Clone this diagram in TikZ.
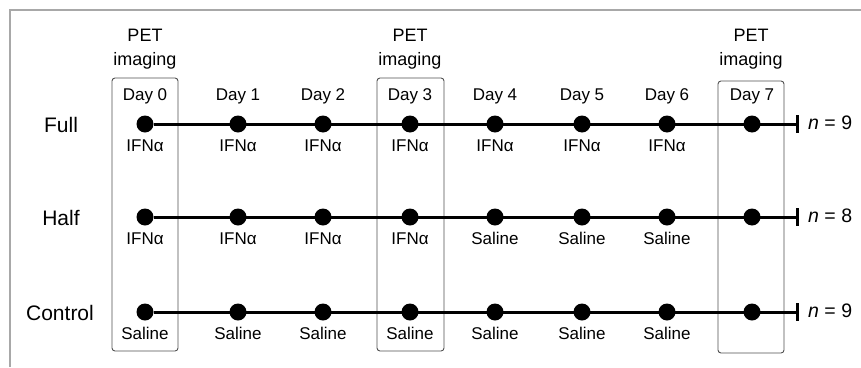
\documentclass[tikz,border=0pt]{standalone}
\usepackage{fontspec}
\setmainfont{Liberation Sans}
\definecolor{framegray}{HTML}{A8A8A8}
\definecolor{boxgray}{HTML}{505050}
\begin{document}
\begin{tikzpicture}[x=1pt,y=-1pt,
  dotnode/.style={circle,fill=black,inner sep=0pt,minimum size=17pt},
  daylbl/.style={font=\fontsize{17}{20}\selectfont,inner sep=0pt,anchor=base},
  petlbl/.style={font=\fontsize{18}{21}\selectfont,inner sep=0pt,anchor=base},
  rowlbl/.style={font=\fontsize{21}{24}\selectfont,inner sep=0pt,anchor=base},
  nlbl/.style={font=\fontsize{19.5}{23}\selectfont,inner sep=0pt,anchor=base west},
  timeline/.style={line width=3pt},
  endbar/.style={line width=3pt},
  petbox/.style={draw=boxgray,line width=0.9pt,rounded corners=3pt},
  outerframe/.style={draw=framegray,line width=1.6pt}]
\useasboundingbox (0,0) rectangle (861,367);
\draw[outerframe] (10,367) -- (10,10) -- (861,10);

% PET boxes
\draw[petbox] (112,78) rectangle (178,351);
\draw[petbox] (377,78) rectangle (444,351);
\draw[petbox] (718,81) rectangle (784,353);

% PET imaging labels
\foreach \nm/\x in {a/145,b/410,c/751}{
  \node[petlbl] (pet\nm) at (\x,41) {PET};
  \node[petlbl] (img\nm) at (\x,65) {imaging};
}

% Day labels
\foreach \i/\x in {0/145,1/238,2/323,3/410,4/495,5/582,6/667,7/752}{
  \node[daylbl] (day\i) at (\x,100) {Day \i};
}

% Row labels
\node[rowlbl] (full) at (61,132) {Full};
\node[rowlbl] (half) at (61,225) {Half};
\node[rowlbl] (ctrl) at (60,320) {Control};

% Rows
\foreach \r/\y/\n in {1/124/9,2/217/8,3/312/9}{
  \coordinate (e\r) at (797,\y);
  \foreach \i/\x in {0/145,1/238,2/323,3/410,4/495,5/582,6/667,7/752}{
    \node[dotnode] (d\r\i) at (\x,\y) {};
  }
  \draw[timeline] (d\r0) -- (e\r);
  \draw[endbar] ([yshift=9pt]e\r) -- ([yshift=-9pt]e\r);
  \node[nlbl] (n\r) at (808,\y+5) {\textit{n} = \n};
}

% Treatment labels
\foreach \i/\x in {0/145,1/238,2/323,3/410,4/495,5/582,6/667}{
  \node[daylbl] (t1\i) at (\x,151) {IFNα};
}
\foreach \i/\x in {0/145,1/238,2/323,3/410}{
  \node[daylbl] (t2\i) at (\x,244) {IFNα};
}
\foreach \i/\x in {4/495,5/582,6/667}{
  \node[daylbl] (t2\i) at (\x,244) {Saline};
}
\foreach \i/\x in {0/145,1/238,2/323,3/410,4/495,5/582,6/667}{
  \node[daylbl] (t3\i) at (\x,339) {Saline};
}
\end{tikzpicture}
\end{document}
